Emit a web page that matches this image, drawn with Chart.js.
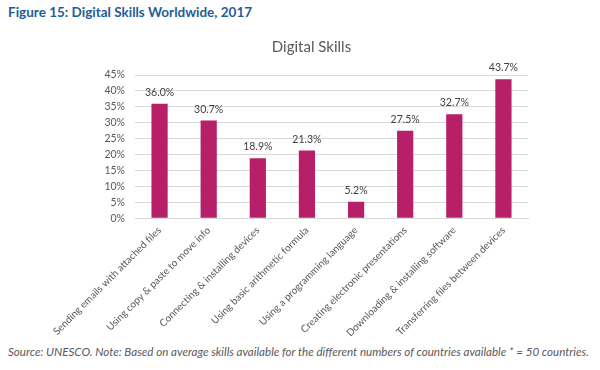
<!DOCTYPE html>
<html>
<head>
<meta charset="utf-8">
<script src="https://cdn.jsdelivr.net/npm/chart.js@4/dist/chart.umd.min.js"></script>
<style>
  body { margin: 0; background: #fff; width: 600px; height: 370px; position: relative; overflow: hidden; }
  #fig-title { position: absolute; left: 8px; top: 4px; font: bold 13.5px Lato, sans-serif; color: #1f5d96; }
  #chart-box { position: absolute; left: 0; top: 30px; width: 600px; height: 315px; }
  #source { position: absolute; left: 8px; top: 345px; font: italic 11.6px Lato, sans-serif; color: #595959; white-space: nowrap; }
</style>
</head>
<body>
<div id="fig-title">Figure 15: Digital Skills Worldwide, 2017</div>
<div id="chart-box"><canvas id="skills"></canvas></div>
<div id="source">Source: UNESCO. Note: Based on average skills available for the different numbers of countries available * = 50 countries.</div>
<script>
var skills = [
  'Sending emails with attached files',
  'Using copy & paste to move info',
  'Connecting & installing devices',
  'Using basic arithmetic formula',
  'Using a programming language',
  'Creating electronic presentations',
  'Downloading & installing software',
  'Transferring files between devices'
];
var shares = [36.0, 30.7, 18.9, 21.3, 5.2, 27.5, 32.7, 43.7];

// draws the value above each bar
var valueLabels = {
  id: 'valueLabels',
  afterDatasetsDraw: function(chart) {
    var ctx = chart.ctx;
    var meta = chart.getDatasetMeta(0);
    ctx.save();
    ctx.font = '10.5px Lato, sans-serif';
    ctx.fillStyle = '#404040';
    ctx.textAlign = 'center';
    ctx.textBaseline = 'bottom';
    meta.data.forEach(function(bar, i) {
      ctx.fillText(shares[i].toFixed(1) + '%', bar.x, bar.y - 6);
    });
    ctx.restore();
  }
};

var ctx = document.getElementById('skills').getContext('2d');
new Chart(ctx, {
  type: 'bar',
  data: {
    labels: skills,
    datasets: [{
      data: shares,
      backgroundColor: '#b71f69',
      barPercentage: 0.66,
      categoryPercentage: 0.5
    }]
  },
  options: {
    responsive: true,
    maintainAspectRatio: false,
    animation: false,
    layout: { padding: { left: 95, right: 72, top: 0, bottom: 0 } },
    plugins: {
      legend: { display: false },
      tooltip: { enabled: false },
      title: {
        display: true,
        text: 'Digital Skills',
        color: '#595959',
        font: { family: 'Lato, sans-serif', size: 15, weight: 'normal' },
        padding: { top: 8, bottom: 19 }
      }
    },
    scales: {
      x: {
        grid: { display: false, drawTicks: false },
        border: { color: '#d9d9d9' },
        ticks: {
          color: '#595959',
          font: { family: 'Lato, sans-serif', size: 10 },
          minRotation: 45,
          maxRotation: 45,
          autoSkip: false,
          padding: 6
        }
      },
      y: {
        min: 0,
        max: 45,
        afterFit: function(scale) { scale.width = 40; },
        grid: { color: '#d9d9d9', drawTicks: false },
        border: { display: false },
        ticks: {
          stepSize: 5,
          padding: 10,
          color: '#595959',
          font: { family: 'Lato, sans-serif', size: 10.5 },
          callback: function(v) { return v + '%'; }
        }
      }
    }
  },
  plugins: [valueLabels]
});
</script>
</body>
</html>
